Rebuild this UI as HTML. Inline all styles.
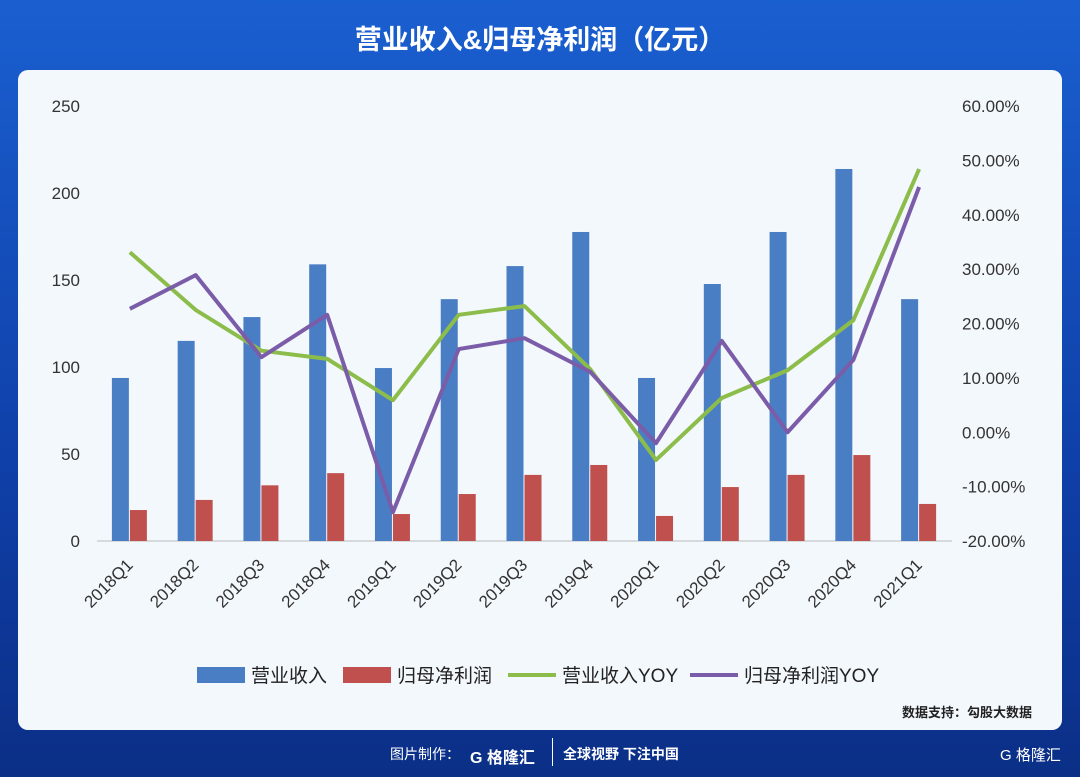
<!DOCTYPE html>
<html><head><meta charset="utf-8"><style>
body{margin:0;width:1080px;height:777px;overflow:hidden;font-family:"Liberation Sans","Noto Sans CJK SC",sans-serif;background:linear-gradient(180deg,#1a5fd0 0%,#0f3fa8 60%,#0b2f86 100%);position:relative}
.title{position:absolute;top:18px;left:0;width:1080px;text-align:center;color:#fff;font-size:27px;font-weight:bold}
.panel{position:absolute;left:18px;top:70px;width:1044px;height:660px;background:#f3f8fd;border-radius:10px}
.foot{position:absolute;top:744px;left:0;width:1080px;color:#fff;font-size:14px}
</style></head><body>
<div class="title">营业收入&amp;归母净利润（亿元）</div>
<div class="panel"></div>
<svg id="c" width="1080" height="777" style="position:absolute;left:0;top:0"></svg>
<div class="foot">
<span style="position:absolute;left:390px;">图片制作：</span>
<span style="position:absolute;left:470px;font-weight:bold;font-size:16px">G 格隆汇</span>
<span style="position:absolute;left:552px;top:-6px;height:28px;border-left:1px solid #fff"></span>
<span style="position:absolute;left:563px;font-weight:bold">全球视野 下注中国</span>
<span style="position:absolute;left:1000px;font-size:15px">G 格隆汇</span>
</div>
<script>
const categories=["2018Q1","2018Q2","2018Q3","2018Q4","2019Q1","2019Q2","2019Q3","2019Q4","2020Q1","2020Q2","2020Q3","2020Q4","2021Q1"];
const revenue=[93.7,115,128.7,159,99.4,139,158,177.6,93.7,147.7,177.6,213.8,139];
const profit=[17.8,23.6,32,39,15.5,27,38,43.7,14.4,31,38,49.4,21.3];
const revYoy=[33.1,22.5,15,13.5,5.9,21.6,23.2,11.6,-5.1,6.3,11.4,20.6,48.4];
const profYoy=[22.7,28.9,13.8,21.6,-14.7,15.3,17.3,11.1,-2,16.8,0,13.3,45.1];
const leftTicks=[0,50,100,150,200,250];
const rightTicks=[-20,-10,0,10,20,30,40,50,60];
const svg=document.getElementById('c');const NS='http://www.w3.org/2000/svg';
function mk(t,a,txt){const e=document.createElementNS(NS,t);for(const k in a)e.setAttribute(k,a[k]);if(txt!==undefined)e.textContent=txt;svg.appendChild(e);return e;}
const L=97,R=952,T=106,B=541,step=(R-L)/categories.length;
const yL=v=>B-(v/250)*(B-T);
const yR=v=>B-((v+20)/80)*(B-T);
const xc=i=>L+step*(i+0.5);
leftTicks.forEach(v=>{const e=mk('text',{x:80,y:yL(v)+6,'text-anchor':'end','font-size':17,fill:'#333'},v);
});
rightTicks.forEach(v=>{const e=mk('text',{x:962,y:yR(v)+6,'font-size':17,fill:'#333'},v.toFixed(2)+'%');
});
const ax=mk('line',{x1:L,x2:R,y1:B,y2:B,stroke:'#bbb'});
categories.forEach((c,i)=>{
const b1=mk('rect',{x:xc(i)-18,y:yL(revenue[i]),width:17,height:B-yL(revenue[i]),fill:'#4a7ec4'});

const b2=mk('rect',{x:xc(i)+0,y:yL(profit[i]),width:17,height:B-yL(profit[i]),fill:'#c0504d'});

const tx=xc(i)+4,ty=566;
const t=mk('text',{x:tx,y:ty,'text-anchor':'end','font-size':17,fill:'#333',transform:`rotate(-45 ${tx} ${ty})`},c);

});
function line(arr,col,name){const p=mk('polyline',{points:arr.map((v,i)=>xc(i)+','+yR(v)).join(' '),fill:'none',stroke:col,'stroke-width':4,'stroke-linejoin':'round'});
}
line(revYoy,'#8cbd4b','revenue-yoy-line');
line(profYoy,'#7b5ca8','profit-yoy-line');
const leg=[['rect','#4a7ec4','营业收入',197],['rect','#c0504d','归母净利润',343],['line','#8cbd4b','营业收入YOY',508],['line','#7b5ca8','归母净利润YOY',690]];
leg.forEach(l=>{let m;
if(l[0]=='rect')m=mk('rect',{x:l[3],y:667,width:48,height:16,fill:l[1]});else m=mk('line',{x1:l[3],x2:l[3]+48,y1:675,y2:675,stroke:l[1],'stroke-width':4});

const t=mk('text',{x:l[3]+54,y:682,'font-size':19,fill:'#222'},l[2]);
});
const s=mk('text',{x:1032,y:717,'text-anchor':'end','font-size':13,'font-weight':'bold',fill:'#222'},'数据支持：勾股大数据');

</script>
</body></html>
